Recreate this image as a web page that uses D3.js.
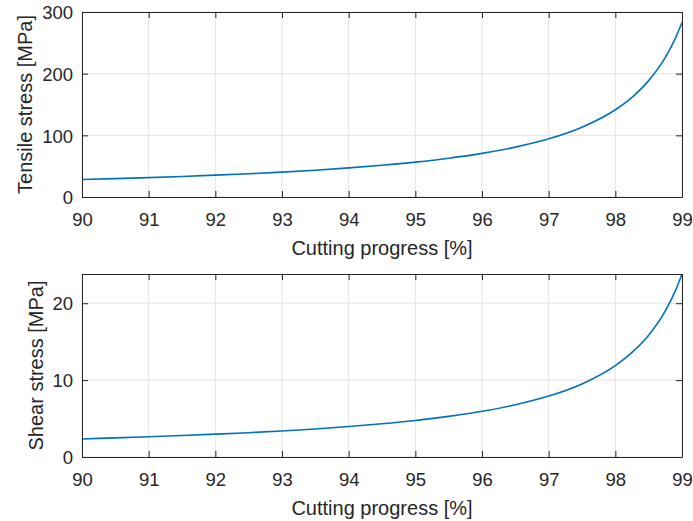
<!DOCTYPE html>
<html>
<head>
<meta charset="utf-8">
<script src="https://cdn.jsdelivr.net/npm/d3@7"></script>
<style>
  html, body { margin: 0; padding: 0; background: #fff; }
  svg { display: block; font-family: "Liberation Sans", Arial, Helvetica, sans-serif; }
</style>
</head>
<body>
<div id="chart"></div>
<script>
// ==============================
// DATOS
// ==============================

const progreso = [90, 90.5, 91, 91.5, 92, 92.5, 93, 93.5, 94, 94.5, 95, 95.5, 96, 96.5, 97, 97.5, 98, 98.25, 98.5, 98.75, 98.9, 99];

const tension = [28.3, 29.8, 31.4, 33.3, 35.4, 37.7, 40.4, 43.5, 47.2, 51.5, 56.6, 62.9, 70.8, 80.9, 94.3, 113.2, 141.5, 161.7, 188.7, 226.4, 257.3, 283.0];

const cortante = [2.35, 2.49, 2.63, 2.79, 2.97, 3.16, 3.39, 3.65, 3.96, 4.32, 4.75, 5.28, 5.94, 6.79, 7.92, 9.50, 11.88, 13.6, 15.85, 19.0, 21.6, 23.8];

const ticksX = [90, 91, 92, 93, 94, 95, 96, 97, 98, 99];
const ticksTension = [0, 100, 200, 300];
const ticksCortante = [0, 10, 20];

const etiquetaX = "Cutting progress [%]";
const etiquetaTension = "Tensile stress [MPa]";
const etiquetaCortante = "Shear stress [MPa]";

// ==============================
// CONFIGURACIÓN GENERAL
// ==============================

const W = 693, H = 521;
const AZUL = "#0072bd";
const EJE = "#262626";
const REJILLA = "#e3e3e3";

const svg = d3.select("#chart").append("svg")
  .attr("width", W)
  .attr("height", H);

// Dibuja un panel (ejes, rejilla, curva y etiquetas)
function dibujarPanel({ top, bottom, yDominio, yTicks, valores, etiquetaY, yLabelX }) {
  const x = d3.scaleLinear().domain([90, 99]).range([82, 682]);
  const y = d3.scaleLinear().domain(yDominio).range([bottom, top]);

  const g = svg.append("g");

  // rejilla
  g.selectAll(".gx").data(ticksX).join("line")
    .attr("x1", d => x(d)).attr("x2", d => x(d))
    .attr("y1", top).attr("y2", bottom)
    .attr("stroke", REJILLA).attr("stroke-width", 1);
  g.selectAll(".gy").data(yTicks).join("line")
    .attr("x1", 82).attr("x2", 682)
    .attr("y1", d => y(d)).attr("y2", d => y(d))
    .attr("stroke", REJILLA).attr("stroke-width", 1);

  // curva
  const linea = d3.line()
    .x((d, i) => x(progreso[i]))
    .y(d => y(d))
    .curve(d3.curveMonotoneX);

  g.append("path")
    .datum(valores)
    .attr("d", linea)
    .attr("fill", "none")
    .attr("stroke", AZUL)
    .attr("stroke-width", 1.6);

  // ejes con marcas hacia dentro
  const ejeAbajo = g.append("g").attr("transform", `translate(0,${bottom})`)
    .call(d3.axisBottom(x).tickValues(ticksX).tickSizeInner(-6).tickSizeOuter(0));
  const ejeArriba = g.append("g").attr("transform", `translate(0,${top})`)
    .call(d3.axisTop(x).tickValues(ticksX).tickSizeInner(-6).tickSizeOuter(0).tickFormat(""));
  const ejeIzq = g.append("g").attr("transform", `translate(82,0)`)
    .call(d3.axisLeft(y).tickValues(yTicks).tickSizeInner(-6).tickSizeOuter(0).tickPadding(9));
  const ejeDer = g.append("g").attr("transform", `translate(682,0)`)
    .call(d3.axisRight(y).tickValues(yTicks).tickSizeInner(-6).tickSizeOuter(0).tickFormat(""));

  [ejeAbajo, ejeArriba, ejeIzq, ejeDer].forEach(e => {
    e.select(".domain").attr("stroke", EJE).attr("stroke-width", 1);
    e.selectAll(".tick line").attr("stroke", EJE).attr("stroke-width", 1);
    e.selectAll(".tick text")
      .attr("fill", EJE)
      .style("font-size", "18.5px")
      .style("font-family", "'Liberation Sans', Arial, sans-serif");
  });
  ejeAbajo.selectAll(".tick text").attr("dy", null).attr("y", 29);
  ejeIzq.selectAll(".tick text").attr("dy", "0.36em");

  // etiquetas
  g.append("text")
    .attr("x", (82 + 682) / 2)
    .attr("y", bottom + 58)
    .attr("text-anchor", "middle")
    .attr("fill", EJE)
    .style("font-size", "20px")
    .text(etiquetaX);

  g.append("text")
    .attr("transform", `translate(${yLabelX},${(top + bottom) / 2}) rotate(-90)`)
    .attr("text-anchor", "middle")
    .attr("fill", EJE)
    .style("font-size", "20px")
    .text(etiquetaY);
}

dibujarPanel({
  top: 12, bottom: 197,
  yDominio: [0, 300], yTicks: ticksTension,
  valores: tension, etiquetaY: etiquetaTension, yLabelX: 32
});

dibujarPanel({
  top: 274, bottom: 457,
  yDominio: [0, 23.8], yTicks: ticksCortante,
  valores: cortante, etiquetaY: etiquetaCortante, yLabelX: 43
});
</script>
</body>
</html>
